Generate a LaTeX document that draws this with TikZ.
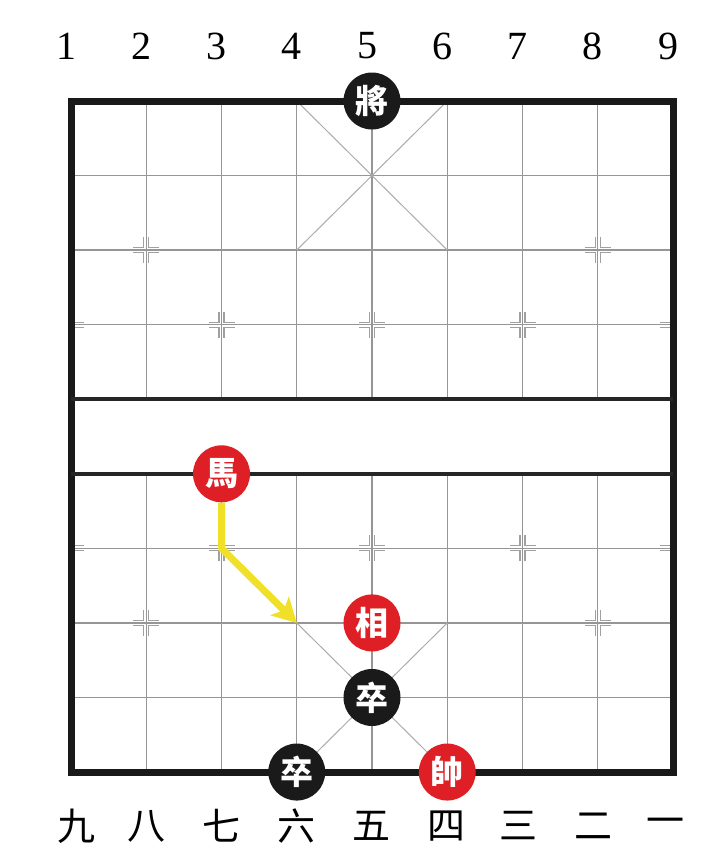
\documentclass[tikz,border=0pt]{standalone}
\usepackage{fontspec}
\setmainfont{Liberation Serif}
\newfontfamily\cjk{Noto Sans CJK SC}
\newfontfamily\pcfont{Noto Sans CJK TC}
\usetikzlibrary{arrows.meta}
\definecolor{redpc}{RGB}{222,32,38}
\definecolor{blackpc}{RGB}{26,26,26}
\definecolor{gridc}{RGB}{150,150,150}
\definecolor{yel}{RGB}{240,224,40}
\tikzset{
  grid/.style={draw=gridc, line width=1.4pt},
  palace/.style={draw=gridc!80, line width=1pt},
  mk/.style={draw=gridc!90, line width=1.2pt},
  border/.style={draw=black!90, line width=7pt, line join=miter},
  river/.style={draw=black!85, line width=3.5pt},
  piece/.style={circle, minimum size=57pt, inner sep=0pt, text=white,
    font=\pcfont\bfseries\fontsize{33}{33}\selectfont},
  redp/.style={piece, fill=redpc},
  blackp/.style={piece, fill=blackpc},
  numlab/.style={font=\fontsize{40}{40}\selectfont, inner sep=0pt},
  cnlab/.style={font=\cjk\fontsize{38}{38}\selectfont, inner sep=0pt},
  yarrow/.style={draw=yel, line width=7pt, line join=round,
    -{Stealth[length=24pt,width=26pt,inset=6pt]}},
}
\begin{document}
\begin{tikzpicture}[x=1pt,y=-1pt]
\useasboundingbox (0,0) rectangle (720,868);
\fill[white] (0,0) rectangle (720,868);
% grid points
\foreach \i in {0,...,8}{\foreach \j in {0,...,9}{
  \coordinate (p\i-\j) at ({71+75.25*\i},{101+74.56*\j});}}
% thin grid
\foreach \i in {1,...,7}{
  \draw[grid] (p\i-0) -- (p\i-4);
  \draw[grid] (p\i-5) -- (p\i-9);}
\foreach \j in {1,2,3,6,7,8}{\draw[grid] (p0-\j) -- (p8-\j);}
% palaces
\draw[palace] (p3-0) -- (p5-2);
\draw[palace] (p5-0) -- (p3-2);
\draw[palace] (p3-7) -- (p5-9);
\draw[palace] (p5-7) -- (p3-9);
% position markers
\foreach \i/\j in {1/2,7/2,2/3,4/3,6/3,1/7,7/7,2/6,4/6,6/6,0/3,0/6,8/3,8/6}{
  \foreach \sx/\sy in {1/1,1/-1,-1/1,-1/-1}{
    \pgfmathtruncatemacro{\skip}{(\i==0 && \sx<0) || (\i==8 && \sx>0) ? 1 : 0}
    \ifnum\skip=0
      \draw[mk, shift={(p\i-\j)}] ({\sx*2.5},{\sy*13}) -- ({\sx*2.5},{\sy*2.5}) -- ({\sx*13},{\sy*2.5});
    \fi
  }}
% thick lines
\draw[border] (p0-0) rectangle (p8-9);
\draw[river] (p0-4) -- (p8-4);
\draw[river] (p0-5) -- (p8-5);
% pieces
\node[blackp] (jiang) at (p4-0) {將};
\node[redp] (ma) at (p2-5) {馬};
\node[redp] (xiang) at (p4-7) {相};
\node[blackp] (zu1) at (p4-8) {卒};
\node[blackp] (zu2) at (p3-9) {卒};
\node[redp] (shuai) at (p5-9) {帥};
% move arrow
\coordinate (turn) at (p2-6);
\coordinate (dest) at (p3-7);
\draw[yarrow] (ma.south) -- (turn) -- (dest);
% top numbers
\foreach \n [count=\k from 0] in {1,...,9}{
  \node[numlab] (top\n) at ({71+75.25*\k-5},46) {\n};}
% bottom numerals
\foreach \c/\xx [count=\k] in {九/76,八/146,七/221,六/296,五/371,四/446,三/518,二/593,一/665}{
  \node[cnlab] (bot\k) at (\xx,826) {\c};}
\end{tikzpicture}
\end{document}
